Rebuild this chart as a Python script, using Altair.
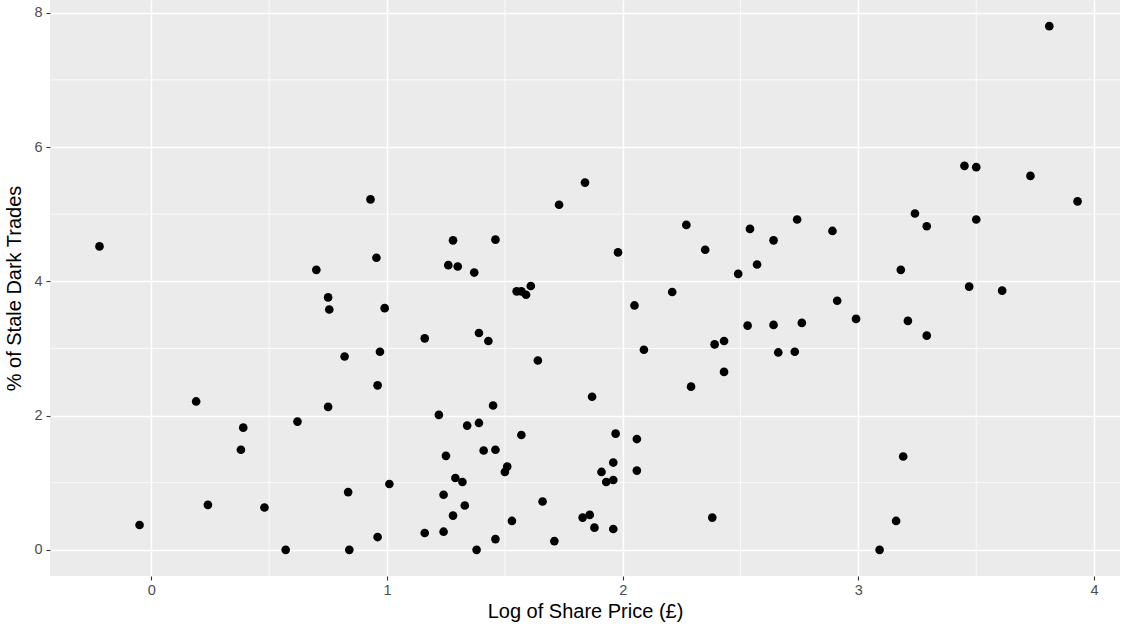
import altair as alt
import pandas as pd

# Log of share price (x) and % of stale dark trades (y)
x_vals = [-0.22, -0.05, 0.19, 0.24, 0.39, 0.38, 0.48, 0.57, 0.62, 0.70,
          0.75, 0.755, 0.75, 0.82, 0.835, 0.84, 0.93, 0.955, 0.96, 0.97,
          0.96, 0.99, 1.01, 1.16, 1.16, 1.22, 1.24, 1.25, 1.26, 1.24,
          1.28, 1.28, 1.30, 1.29, 1.32, 1.33, 1.34, 1.37, 1.39, 1.39,
          1.38, 1.41, 1.43, 1.45, 1.46, 1.46, 1.46, 1.50, 1.51, 1.53,
          1.55, 1.57, 1.59, 1.61, 1.57, 1.64, 1.66, 1.71, 1.73, 1.83,
          1.84, 1.86, 1.87, 1.88, 1.91, 1.93, 1.96, 1.96, 1.96, 1.97,
          1.98, 2.05, 2.06, 2.06, 2.09, 2.21, 2.27, 2.29, 2.35, 2.38,
          2.39, 2.43, 2.43, 2.49, 2.54, 2.53, 2.57, 2.64, 2.64, 2.66,
          2.76, 2.73, 2.74, 2.89, 2.91, 2.99, 3.09, 3.16, 3.19, 3.18,
          3.21, 3.24, 3.29, 3.29, 3.45, 3.50, 3.50, 3.47, 3.73, 3.61,
          3.81, 3.93]
y_vals = [4.52, 0.37, 2.21, 0.67, 1.82, 1.49, 0.63, 0.00, 1.91, 4.17,
          3.76, 3.58, 2.13, 2.88, 0.86, 0.00, 5.22, 4.35, 2.45, 2.95,
          0.19, 3.60, 0.98, 3.15, 0.25, 2.01, 0.82, 1.40, 4.24, 0.27,
          4.61, 0.51, 4.22, 1.07, 1.01, 0.66, 1.85, 4.13, 1.89, 3.23,
          0.00, 1.48, 3.11, 2.15, 1.49, 0.16, 4.62, 1.16, 1.24, 0.43,
          3.85, 3.85, 3.80, 3.93, 1.71, 2.82, 0.72, 0.13, 5.14, 0.48,
          5.47, 0.52, 2.28, 0.33, 1.16, 1.01, 1.30, 1.04, 0.31, 1.73,
          4.43, 3.64, 1.65, 1.18, 2.98, 3.84, 4.84, 2.43, 4.47, 0.48,
          3.06, 3.11, 2.65, 4.11, 4.78, 3.34, 4.25, 3.35, 4.61, 2.94,
          3.38, 2.95, 4.92, 4.75, 3.71, 3.44, 0.00, 0.43, 1.39, 4.17,
          3.41, 5.01, 4.82, 3.19, 5.72, 5.70, 4.92, 3.92, 5.57, 3.86,
          7.80, 5.19]

x_ticks = [0, 1, 2, 3, 4]
y_ticks = [0, 2, 4, 6, 8]
x_minor = [0.5, 1.5, 2.5, 3.5]
y_minor = [1, 3, 5, 7]

df = pd.DataFrame({"x": x_vals, "y": y_vals})
dx = pd.DataFrame({"x": x_minor})
dy = pd.DataFrame({"y": y_minor})

xs = alt.Scale(domain=[-0.43, 4.11], nice=False, zero=False)
ys = alt.Scale(domain=[-0.39, 8.19], nice=False, zero=False)

FONT = "Liberation Sans"

xaxis = alt.Axis(title="Log of Share Price (£)", values=x_ticks, format="d",
                 grid=True, gridColor="white", gridWidth=1.5, domain=False,
                 tickColor="#333333", tickSize=4, tickWidth=1.1,
                 labelColor="#4D4D4D", labelFontSize=14.5, labelPadding=3,
                 labelFont=FONT, titleFont=FONT, titleFontSize=20,
                 titleFontWeight="normal", titleColor="black", titlePadding=5)
yaxis = alt.Axis(title="% of Stale Dark Trades", values=y_ticks, format="d",
                 grid=True, gridColor="white", gridWidth=1.5, domain=False,
                 tickColor="#333333", tickSize=4, tickWidth=1.1,
                 labelColor="#4D4D4D", labelFontSize=14.5, labelPadding=4,
                 labelFont=FONT, titleFont=FONT, titleFontSize=20,
                 titleFontWeight="normal", titleColor="black", titlePadding=9)

minor_x = alt.Chart(dx).mark_rule(color="white", strokeWidth=0.8).encode(
    x=alt.X("x:Q", scale=xs, axis=xaxis))
minor_y = alt.Chart(dy).mark_rule(color="white", strokeWidth=0.8).encode(
    y=alt.Y("y:Q", scale=ys, axis=yaxis))
points = alt.Chart(df).mark_circle(size=75, color="black", opacity=1).encode(
    x=alt.X("x:Q", scale=xs, axis=xaxis),
    y=alt.Y("y:Q", scale=ys, axis=yaxis))

chart = alt.layer(minor_x, minor_y, points).properties(
    width=1070, height=576,
    autosize=alt.AutoSizeParams(type="none"),
    padding={"left": 50, "top": 0, "right": 6, "bottom": 57},
    background="white",
).configure_view(fill="#EBEBEB", strokeWidth=0)

chart.save("out.html", embed_options={"renderer": "svg", "actions": False})
